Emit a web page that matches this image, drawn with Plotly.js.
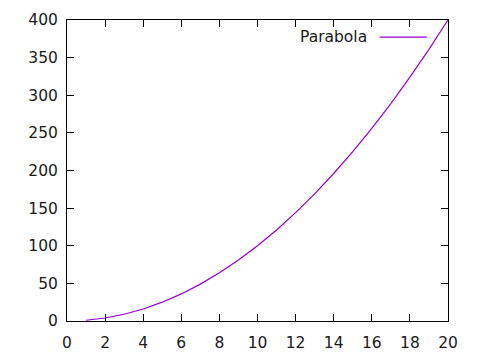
<!DOCTYPE html>
<html>
<head>
<meta charset="utf-8">
<script src="https://cdn.plot.ly/plotly-3.0.1.min.js"></script>
<style>html,body{margin:0;padding:0;background:#fff;}#chart{width:480px;height:360px;}</style>
</head>
<body>
<div id="chart"></div>
<script>
const xValues = [1,2,3,4,5,6,7,8,9,10,11,12,13,14,15,16,17,18,19,20];
const yValues = [1,4,9,16,25,36,49,64,81,100,121,144,169,196,225,256,289,324,361,400];
const seriesName = "Parabola";
const xTicks = [0,2,4,6,8,10,12,14,16,18,20];
const yTicks = [0,50,100,150,200,250,300,350,400];

const lineColor = "#9400D3";
const font = {family: "DejaVu Sans, sans-serif", size: 15.5, color: "#1a1a1a"};

const trace = {
  x: xValues, y: yValues, name: seriesName, type: "scatter", mode: "lines",
  line: {color: lineColor, width: 1.2}, showlegend: false
};

const axisCommon = {
  showgrid: false, zeroline: false, showline: true, linecolor: "#000", linewidth: 1,
  mirror: "ticks", ticks: "inside", ticklen: 7, tickwidth: 1, tickcolor: "#000",
  tickfont: font
};

const layout = {
  width: 480, height: 360,
  margin: {l: 66.5, r: 31.5, t: 19.5, b: 38.5},
  paper_bgcolor: "#fff", plot_bgcolor: "#fff",
  font: font,
  xaxis: Object.assign({}, axisCommon, {range: [0,20], tickvals: xTicks, ticktext: xTicks.map(String), ticklabelstandoff: 7}),
  yaxis: Object.assign({}, axisCommon, {range: [0,400], tickvals: yTicks, ticktext: yTicks.map(String), ticklabelstandoff: 5}),
  annotations: [{
    xref: "paper", yref: "paper", x: 0.792, y: 0.943, xanchor: "right", yanchor: "middle",
    text: seriesName, showarrow: false, font: font
  }],
  shapes: [{
    type: "line", xref: "paper", yref: "paper", x0: 0.8207, x1: 0.9445, y0: 0.943, y1: 0.943,
    line: {color: lineColor, width: 1.2}
  }]
};

Plotly.newPlot("chart", [trace], layout, {displayModeBar: false, staticPlot: true});
</script>
</body>
</html>
